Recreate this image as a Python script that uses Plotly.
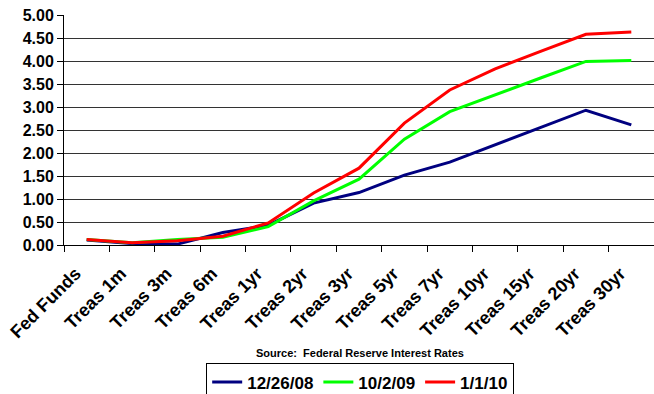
import plotly.graph_objects as go

categories = ["Fed Funds", "Treas 1m", "Treas 3m", "Treas 6m", "Treas 1yr", "Treas 2yr",
              "Treas 3yr", "Treas 5yr", "Treas 7yr", "Treas 10yr", "Treas 15yr",
              "Treas 20yr", "Treas 30yr"]

rates_122608 = [0.11, 0.03, 0.02, 0.27, 0.43, 0.91, 1.14, 1.52, 1.80, 2.18, 2.56, 2.93, 2.61]
rates_100209 = [0.12, 0.05, 0.12, 0.17, 0.40, 0.96, 1.43, 2.30, 2.90, 3.27, 3.63, 3.99, 4.01]
rates_010110 = [0.12, 0.05, 0.09, 0.19, 0.48, 1.13, 1.67, 2.65, 3.37, 3.83, 4.21, 4.58, 4.63]

series_names = ["12/26/08", "10/2/09", "1/1/10"]
series_colors = ["#000080", "#00FF00", "#FF0000"]
y_ticks = [0.0, 0.5, 1.0, 1.5, 2.0, 2.5, 3.0, 3.5, 4.0, 4.5, 5.0]
source_text = "Source:  Federal Reserve Interest Rates"

FONT = "Liberation Sans, Arial, sans-serif"

fig = go.Figure()
for name, vals, col in zip(series_names, [rates_122608, rates_100209, rates_010110], series_colors):
    fig.add_trace(go.Scatter(x=categories, y=vals, mode="lines", name=name,
                             line=dict(color=col, width=3)))

fig.update_layout(
    width=654, height=394,
    margin=dict(l=64, r=0, t=15, b=149, autoexpand=False),
    paper_bgcolor="white", plot_bgcolor="white",
    font=dict(family=FONT, color="black"),
    showlegend=True,
    legend=dict(orientation="h", x=0.502, xanchor="center", y=-0.515, yanchor="top",
                bordercolor="black", borderwidth=1, bgcolor="white",
                font=dict(family=FONT, size=17, weight="bold", color="black"),
                itemwidth=30, tracegroupgap=0),
    annotations=[dict(text=source_text, xref="paper", yref="paper", x=0.502, y=-0.47,
                      xanchor="center", yanchor="middle", showarrow=False,
                      font=dict(family=FONT, size=11, weight="bold", color="black"))],
)
fig.update_xaxes(type="category", range=[-0.5, 12.5], showline=True, linecolor="black",
                 linewidth=1, ticks="outside", ticklen=6, tickcolor="black",
                 tickson="boundaries", showgrid=False, tickangle=-45,
                 ticklabelshift=-11, ticklabelstandoff=10, automargin=False,
                 tickfont=dict(family=FONT, size=18, weight="bold", color="black"))
fig.update_yaxes(range=[0, 5], tickvals=y_ticks, tickformat=".2f", showline=True,
                 linecolor="black", linewidth=1, ticks="outside", ticklen=6,
                 tickcolor="black", showgrid=True, gridcolor="#333333", gridwidth=1,
                 zeroline=False, automargin=False,
                 tickfont=dict(family=FONT, size=16, weight="bold", color="black"))

fig.write_html("out.html", config={"displayModeBar": False},
               post_script="document.body.style.margin='0';document.body.style.overflow='hidden';")
